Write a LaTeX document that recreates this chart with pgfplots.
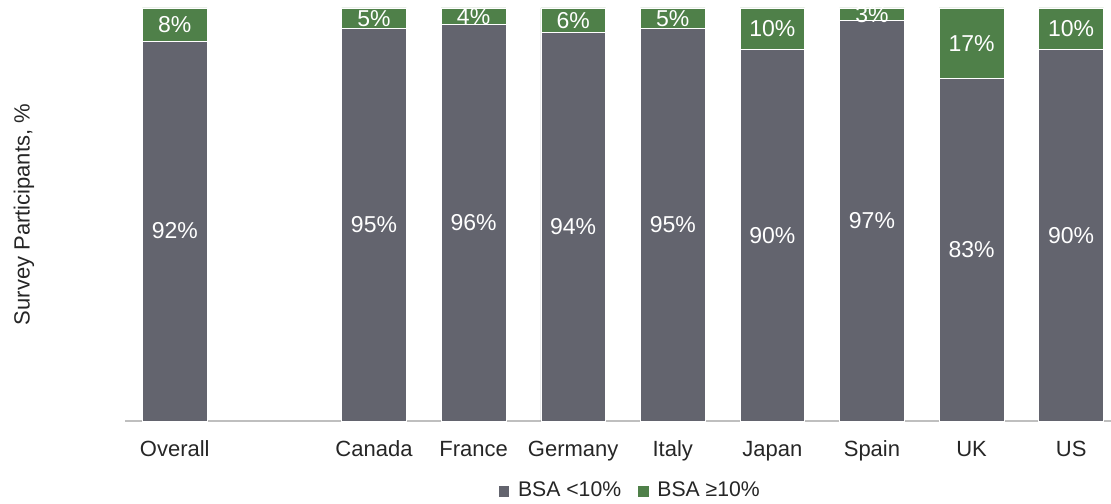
\documentclass[border=0pt]{standalone}
\usepackage{pgfplots}
\pgfplotsset{compat=1.18}
\usepackage{fontspec}
\setmainfont{Liberation Sans}
\definecolor{cgray}{HTML}{63646E}
\definecolor{cgreen}{HTML}{4F8049}
\definecolor{axgray}{HTML}{BFBFBF}
\begin{document}
\begin{tikzpicture}
\begin{axis}[
  at={(0,0)}, anchor=south west,
  scale only axis, width=493pt, height=206.5pt,
  ybar stacked, bar width=0.65,
  xmin=-0.5, xmax=9.4, ymin=0, ymax=100,
  separate axis lines,
  axis x line=bottom, axis y line=left,
  x axis line style={-, draw=axgray, line width=0.8pt},
  y axis line style={draw=none},
  ytick=\empty,
  xtick={0,2,3,4,5,6,7,8,9},
  xticklabels={Overall,Canada,France,Germany,Italy,Japan,Spain,UK,US},
  major tick length=0pt,
  xticklabel style={font=\fontsize{11}{13}\selectfont, anchor=base, yshift=-17.5pt, text=black!85},
  every axis y label/.style={at={(axis description cs:-0.1025,0.5)}, rotate=90, anchor=center, font=\fontsize{11}{13}\selectfont, text=black!85},
  ylabel={Survey Participants, \%},
  point meta=rawy,
  nodes near coords={\pgfmathprintnumber[assume math mode=true]{\pgfplotspointmeta}\%},
  every node near coord/.append style={anchor=center, text=white, font=\fontsize{11.5}{13}\selectfont},
  legend columns=2,
  legend style={at={(0.513,-0.1695)}, anchor=center, draw=none, font=\fontsize{10.6}{12}\selectfont, text=black!85,
    /tikz/every odd column/.append style={column sep=2pt},
    /tikz/every even column/.append style={column sep=6pt}},
  legend image code/.code={\fill[#1] (0pt,-2.9pt) rectangle (5.8pt,2.9pt);},
]
\addplot[fill=cgray, draw=white, line width=0.3pt] coordinates {(0,92) (2,95) (3,96) (4,94) (5,95) (6,90) (7,97) (8,83) (9,90)};
\addplot[fill=cgreen, draw=white, line width=0.3pt] coordinates {(0,8) (2,5) (3,4) (4,6) (5,5) (6,10) (7,3) (8,17) (9,10)};
\legend{BSA <10\%, BSA ≥10\%}
\end{axis}
\pgfresetboundingbox
\path[use as bounding box] (-62.5pt,-41pt) rectangle (493pt,210.5pt);
\end{tikzpicture}
\end{document}
